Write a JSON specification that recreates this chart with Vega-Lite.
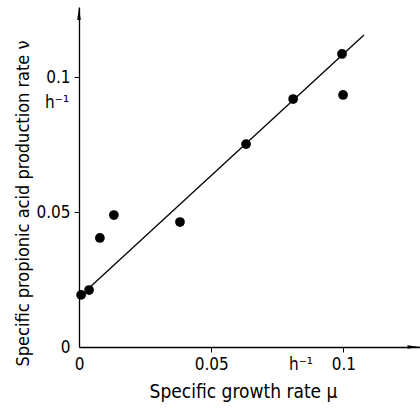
{
  "$schema": "https://vega.github.io/schema/vega-lite/v6.json",
  "width": 341,
  "height": 340,
  "autosize": "none",
  "padding": {"left": 79, "top": 7, "right": 0, "bottom": 61},
  "background": "white",
  "config": {
    "view": {"stroke": null},
    "font": "DejaVu Sans Condensed, Liberation Sans Narrow, DejaVu Sans"
  },
  "datasets": {
    "points": [
      {"mu": 0.0008, "nu": 0.0193},
      {"mu": 0.0038, "nu": 0.0211},
      {"mu": 0.0079, "nu": 0.0404},
      {"mu": 0.0132, "nu": 0.0489},
      {"mu": 0.0382, "nu": 0.0463},
      {"mu": 0.0632, "nu": 0.0752},
      {"mu": 0.081, "nu": 0.0919},
      {"mu": 0.0995, "nu": 0.1086},
      {"mu": 0.0999, "nu": 0.0934}
    ],
    "fit": [
      {"mu": 0.0042, "nu": 0.0222},
      {"mu": 0.1078, "nu": 0.1156}
    ],
    "units": [
      {"mu": -0.0083, "nu": 0.0905, "t": "h⁻¹"},
      {"mu": 0.084, "nu": -0.0067, "t": "h⁻¹"}
    ],
    "arrows": [
      {"mu": 0, "nu": 0.1236, "shape": "M0,-1L0.27,1L-0.27,1Z"},
      {"mu": 0.1267, "nu": 0, "shape": "M1,0L-1,-0.27L-1,0.27Z"}
    ]
  },
  "layer": [
    {
      "data": {"name": "points"},
      "mark": {"type": "circle", "size": 95, "color": "black", "opacity": 1},
      "encoding": {
        "x": {
          "field": "mu", "type": "quantitative",
          "scale": {"domain": [0, 0.129], "nice": false, "zero": false},
          "axis": {
            "values": [0, 0.05, 0.1],
            "labelExpr": "datum.value == 0 ? '0' : (datum.value < 0.07 ? '0.05' : '0.1')",
            "title": "Specific growth rate μ",
            "grid": false,
            "domainColor": "black",
            "domainWidth": 1.3,
            "tickColor": "black",
            "tickSize": 5,
            "tickOpacity": {"condition": {"test": "datum.value == 0", "value": 0}, "value": 1},
            "labelFontSize": 17,
            "labelColor": "black",
            "labelPadding": 4,
            "labelFlush": false,
            "labelOverlap": false,
            "titleFontSize": 19,
            "titleFontWeight": "normal",
            "titleColor": "black",
            "titlePadding": 10,
            "titleX": 164
          }
        },
        "y": {
          "field": "nu", "type": "quantitative",
          "scale": {"domain": [0, 0.126], "nice": false, "zero": false},
          "axis": {
            "values": [0, 0.05, 0.1],
            "labelExpr": "datum.value == 0 ? '0' : (datum.value < 0.07 ? '0.05' : '0.1')",
            "title": "Specific propionic acid production rate ν",
            "grid": false,
            "domainColor": "black",
            "domainWidth": 1.3,
            "tickColor": "black",
            "tickSize": 5,
            "tickOpacity": {"condition": {"test": "datum.value == 0", "value": 0}, "value": 1},
            "labelFontSize": 17,
            "labelColor": "black",
            "labelPadding": 4,
            "labelOverlap": false,
            "titleFontSize": 18,
            "titleFontWeight": "normal",
            "titleColor": "black",
            "titlePadding": 3,
            "titleY": 196
          }
        }
      }
    },
    {
      "data": {"name": "fit"},
      "mark": {"type": "line", "color": "black", "strokeWidth": 1.3},
      "encoding": {
        "x": {"field": "mu", "type": "quantitative"},
        "y": {"field": "nu", "type": "quantitative"}
      }
    },
    {
      "data": {"name": "units"},
      "mark": {"type": "text", "fontSize": 17, "color": "black"},
      "encoding": {
        "x": {"field": "mu", "type": "quantitative"},
        "y": {"field": "nu", "type": "quantitative"},
        "text": {"field": "t"}
      }
    },
    {
      "data": {"name": "arrows"},
      "mark": {"type": "point", "filled": true, "color": "black", "opacity": 1, "size": 169},
      "encoding": {
        "x": {"field": "mu", "type": "quantitative"},
        "y": {"field": "nu", "type": "quantitative"},
        "shape": {"field": "shape", "type": "nominal", "scale": null}
      }
    }
  ]
}
